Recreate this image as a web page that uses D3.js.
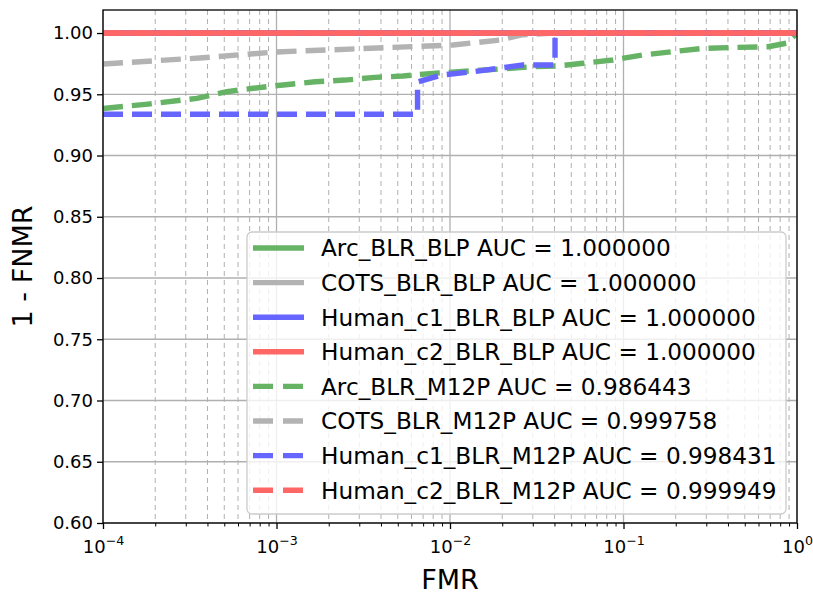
<!DOCTYPE html>
<html><head><meta charset="utf-8">
<script src="https://cdn.jsdelivr.net/npm/d3@7"></script>
<style>body{margin:0;background:#fff}svg{display:block;font-family:"DejaVu Sans",sans-serif}</style>
</head><body><svg id="c" width="813" height="594"></svg>
<script>
// ---------- data ----------
const labels = [
  "Arc_BLR_BLP AUC = 1.000000",
  "COTS_BLR_BLP AUC = 1.000000",
  "Human_c1_BLR_BLP AUC = 1.000000",
  "Human_c2_BLR_BLP AUC = 1.000000",
  "Arc_BLR_M12P AUC = 0.986443",
  "COTS_BLR_M12P AUC = 0.999758",
  "Human_c1_BLR_M12P AUC = 0.998431",
  "Human_c2_BLR_M12P AUC = 0.999949"
];
const colors = ["#66b366", "#b3b3b3", "#6666ff", "#ff6666", "#66b366", "#b3b3b3", "#6666ff", "#ff6666"];
const dashed = [false, false, false, false, true, true, true, true];
const drawOrder = [0, 1, 2, 4, 5, 6, 3, 7];

const arcBlpFmr = [1e-4, 1], arcBlpTpr = [1.0, 1.0];
const cotsBlpFmr = [1e-4, 1], cotsBlpTpr = [1.0, 1.0];
const hc1BlpFmr = [1e-4, 1], hc1BlpTpr = [1.0, 1.0];
const hc2BlpFmr = [1e-4, 1], hc2BlpTpr = [1.0, 1.0];

const arcM12Fmr = [1e-4, 1.82e-4, 3.48e-4, 5.18e-4, 7.32e-4, 1.09e-3, 1.67e-3, 2.48e-3, 3.70e-3, 5.36e-3, 7.98e-3, 0.0159, 0.0301, 0.0414, 0.0584, 0.0869, 0.129, 0.190, 0.287, 0.451, 0.681, 0.875, 0.973, 1.0];
const arcM12Tpr = [0.9384, 0.9420, 0.9467, 0.9521, 0.9549, 0.9576, 0.9602, 0.9616, 0.9638, 0.9649, 0.9671, 0.9698, 0.9725, 0.9731, 0.9753, 0.9780, 0.9820, 0.9847, 0.9875, 0.9883, 0.9888, 0.9918, 0.9984, 1.0];
const cotsM12Fmr = [1e-4, 3.6e-4, 9.8e-4, 2.65e-3, 1.04e-2, 0.0194, 0.026, 0.04, 1.0];
const cotsM12Tpr = [0.9747, 0.9796, 0.9845, 0.9869, 0.9902, 0.9943, 0.9985, 1.0, 1.0];
const hc1M12Fmr = [1e-4, 6.5e-3, 6.5e-3, 9.0e-3, 0.0136, 0.0264, 0.0395, 0.0403, 0.0403, 1.0];
const hc1M12Tpr = [0.9337, 0.9337, 0.9600, 0.9657, 0.9684, 0.9739, 0.9739, 0.9740, 1.0, 1.0];
const hc2M12Fmr = [1e-4, 1.0];
const hc2M12Tpr = [0.9999, 1.0];

const seriesFmr = [arcBlpFmr, cotsBlpFmr, hc1BlpFmr, hc2BlpFmr, arcM12Fmr, cotsM12Fmr, hc1M12Fmr, hc2M12Fmr];
const seriesTpr = [arcBlpTpr, cotsBlpTpr, hc1BlpTpr, hc2BlpTpr, arcM12Tpr, cotsM12Tpr, hc1M12Tpr, hc2M12Tpr];

const yTicks = [0.60, 0.65, 0.70, 0.75, 0.80, 0.85, 0.90, 0.95, 1.00];
const xMajor = [1e-4, 1e-3, 1e-2, 1e-1, 1];
const xExp = ["−4", "−3", "−2", "−1", "0"];

// ---------- layout ----------
const L = 103, R = 797, T = 10, B = 523;
const x = d3.scaleLog().domain([1e-4, 1]).range([L, R]);
const y = d3.scaleLinear().domain([0.6, 1.0188]).range([B, T]);
const svg = d3.select("#c");

const xMinor = [];
for (let d = -4; d < 0; d++) for (let k = 2; k <= 9; k++) xMinor.push(k * Math.pow(10, d));

const grid = svg.append("g");
grid.selectAll(".gm").data(xMinor).join("line")
  .attr("x1", d => x(d)).attr("x2", d => x(d)).attr("y1", T).attr("y2", B)
  .attr("stroke", "#b0b0b0").attr("stroke-width", 1).attr("stroke-dasharray", "5,4");
grid.selectAll(".gM").data(xMajor).join("line")
  .attr("x1", d => x(d)).attr("x2", d => x(d)).attr("y1", T).attr("y2", B)
  .attr("stroke", "#b0b0b0").attr("stroke-width", 1.3);
grid.selectAll(".gy").data(yTicks).join("line")
  .attr("x1", L).attr("x2", R).attr("y1", d => y(d)).attr("y2", d => y(d))
  .attr("stroke", "#b0b0b0").attr("stroke-width", 1.3);

// ---------- lines ----------
svg.append("clipPath").attr("id", "clp").append("rect")
  .attr("x", L).attr("y", T).attr("width", R - L).attr("height", B - T);
const line = d3.line().x(d => x(d[0])).y(d => y(d[1]));
const lg = svg.append("g").attr("clip-path", "url(#clp)");
drawOrder.forEach(i => {
  const pts = seriesFmr[i].map((v, j) => [v, seriesTpr[i][j]]);
  lg.append("path").attr("d", line(pts)).attr("fill", "none")
    .attr("stroke", colors[i]).attr("stroke-width", 5.4)
    .attr("stroke-linejoin", "round")
    .attr("stroke-dasharray", dashed[i] ? "20,9" : null);
});

// ---------- axes ----------
const yAxis = svg.append("g").attr("transform", `translate(${L},0)`)
  .call(d3.axisLeft(y).tickValues(yTicks).tickFormat(d3.format(".2f")).tickSize(6).tickPadding(4));
yAxis.select(".domain").remove();
yAxis.selectAll("text").attr("font-size", 18).attr("font-family", "DejaVu Sans").attr("fill", "#000");
yAxis.selectAll("line").attr("stroke", "#000").attr("stroke-width", 1.3);

const xMinAxis = svg.append("g").attr("transform", `translate(0,${B})`)
  .call(d3.axisBottom(x).tickValues(xMinor).tickFormat("").tickSize(3.5));
xMinAxis.select(".domain").remove();
xMinAxis.selectAll("line").attr("stroke", "#000").attr("stroke-width", 1);

const xAxis = svg.append("g").attr("transform", `translate(0,${B})`)
  .call(d3.axisBottom(x).tickValues(xMajor).tickFormat(() => "").tickSize(6));
xAxis.select(".domain").remove();
xAxis.selectAll("line").attr("stroke", "#000").attr("stroke-width", 1.3);
xAxis.selectAll(".tick text").each(function(d, i) {
  const t = d3.select(this).text(null).attr("y", 30).attr("dy", null)
    .attr("font-size", 18).attr("fill", "#000").attr("font-family", "DejaVu Sans").attr("text-anchor", "middle");
  t.append("tspan").text("10");
  t.append("tspan").text(xExp[i]).attr("font-size", 12.6).attr("dy", -8);
});

svg.append("rect").attr("x", L).attr("y", T).attr("width", R - L).attr("height", B - T)
  .attr("fill", "none").attr("stroke", "#000").attr("stroke-width", 1.3);

svg.append("text").attr("x", (L + R) / 2).attr("y", 589).attr("text-anchor", "middle")
  .attr("font-size", 27).text("FMR");
svg.append("text").attr("transform", `translate(32,${(T + B) / 2}) rotate(-90)`)
  .attr("text-anchor", "middle").attr("font-size", 27).text("1 - FNMR");

// ---------- legend ----------
const leg = svg.append("g");
const lx = 247, ly = 232, lw = 539, lh = 282, rowH = 34.6;
leg.append("rect").attr("x", lx).attr("y", ly).attr("width", lw).attr("height", lh)
  .attr("rx", 5).attr("fill", "#fff").attr("fill-opacity", 0.8)
  .attr("stroke", "#cccccc").attr("stroke-width", 1.3);
labels.forEach((lab, i) => {
  const cy = ly + 16 + i * rowH;
  leg.append("line").attr("x1", 253).attr("x2", 304).attr("y1", cy).attr("y2", cy)
    .attr("stroke", colors[i]).attr("stroke-width", 5.4)
    .attr("stroke-dasharray", dashed[i] ? "20,10" : null);
  leg.append("text").attr("x", 321).attr("y", cy).attr("dy", "0.36em")
    .attr("font-size", 23.2).attr("fill", "#000").text(lab);
});
</script></body></html>
